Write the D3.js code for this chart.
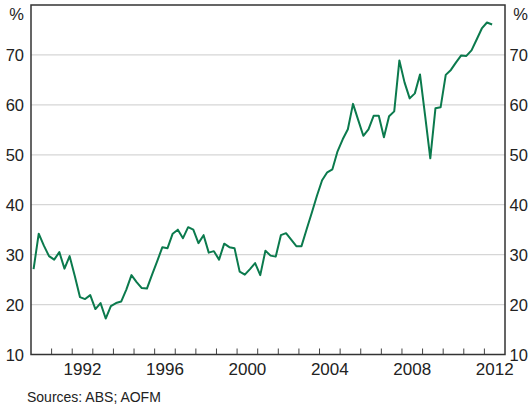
<!DOCTYPE html>
<html>
<head>
<meta charset="utf-8">
<script src="https://cdn.jsdelivr.net/npm/d3@7"></script>
<style>
  body { margin: 0; background: #fff; }
  svg text { font-family: "Liberation Sans", Arial, sans-serif; fill: #222; }
</style>
</head>
<body>
<div id="chart"></div>
<script>
// quarterly values, first point = 1990 Q1
var firstYear = 1990
var values = [
  27.1, 34.2, 31.8, 29.7,
  29.0, 30.5, 27.2, 29.7,
  25.7, 21.5, 21.1, 21.9,
  19.1, 20.3, 17.2, 19.7,
  20.3, 20.6, 23.0, 25.9,
  24.5, 23.3, 23.2, 26.0,
  28.7, 31.5, 31.3, 34.2,
  35.0, 33.3, 35.5, 35.0,
  32.3, 33.9, 30.4, 30.7,
  29.0, 32.2, 31.5, 31.3,
  26.6, 26.0, 27.1, 28.3,
  25.9, 30.8, 29.8, 29.6,
  33.9, 34.3, 33.0, 31.7,
  31.7, 35.1, 38.4, 41.8,
  44.9, 46.5, 47.1, 50.7,
  53.1, 55.1, 60.2, 57.0,
  53.8, 55.1, 57.8, 57.8,
  53.5, 57.7, 58.7, 68.9,
  64.5, 61.3, 62.3, 66.1,
  57.8, 49.3, 59.3, 59.5,
  66.0, 67.0, 68.5, 69.9,
  69.8, 70.9, 73.1, 75.3,
  76.5, 76.1
]
var yTicks = [10, 20, 30, 40, 50, 60, 70]
var gridLines = [20, 30, 40, 50, 60, 70]
var yearLabels = [1992, 1996, 2000, 2004, 2008, 2012]

var width = 530, height = 406
var plotL = 31, plotR = 505, plotT = 5, plotB = 354.5

var svg = d3.select('#chart').append('svg')
  .attr('width', width)
  .attr('height', height)

var x = d3.scaleLinear().domain([1990, 2013]).range([plotL, plotR])
var y = d3.scaleLinear().domain([10, 80]).range([plotB, plotT])

// grid
svg.append('g').selectAll('line')
  .data(gridLines)
  .enter().append('line')
    .attr('x1', plotL).attr('x2', plotR)
    .attr('y1', function (d) { return y(d) }).attr('y2', function (d) { return y(d) })
    .attr('stroke', '#d6d6d6')
    .attr('stroke-width', 1.2)

// year ticks along the bottom, pointing up
var yearTicks = d3.range(1991, 2013)
svg.append('g').selectAll('line')
  .data(yearTicks)
  .enter().append('line')
    .attr('x1', function (d) { return x(d) }).attr('x2', function (d) { return x(d) })
    .attr('y1', plotB).attr('y2', plotB - 6)
    .attr('stroke', '#444')
    .attr('stroke-width', 1)

// series
var points = values.map(function (v, i) { return { t: firstYear + (i + 0.5) / 4, v: v } })
var line = d3.line()
  .x(function (d) { return x(d.t) })
  .y(function (d) { return y(d.v) })

svg.append('path')
  .datum(points)
  .attr('d', line)
  .attr('fill', 'none')
  .attr('stroke', '#0b7a4d')
  .attr('stroke-width', 2)
  .attr('stroke-linejoin', 'round')

// frame
svg.append('rect')
  .attr('x', plotL).attr('y', plotT)
  .attr('width', plotR - plotL).attr('height', plotB - plotT)
  .attr('fill', 'none')
  .attr('stroke', '#333')
  .attr('stroke-width', 1.5)

// y labels both sides
var fs = 16.5
svg.append('g').selectAll('text')
  .data(yTicks)
  .enter().append('text')
    .attr('x', plotL - 7)
    .attr('y', function (d) { return y(d) + 6 })
    .attr('text-anchor', 'end')
    .attr('font-size', fs)
    .text(function (d) { return d })

svg.append('g').selectAll('text')
  .data(yTicks)
  .enter().append('text')
    .attr('x', plotR + 4.5)
    .attr('y', function (d) { return y(d) + 6 })
    .attr('text-anchor', 'start')
    .attr('font-size', fs)
    .text(function (d) { return d })

svg.append('text')
  .attr('x', plotL - 7).attr('y', 20)
  .attr('text-anchor', 'end')
  .attr('font-size', fs)
  .text('%')

svg.append('text')
  .attr('x', 528).attr('y', 20)
  .attr('text-anchor', 'end')
  .attr('font-size', fs)
  .text('%')

// x labels centred in the year
svg.append('g').selectAll('text')
  .data(yearLabels)
  .enter().append('text')
    .attr('x', function (d) { return x(d + 0.5) })
    .attr('y', 375)
    .attr('text-anchor', 'middle')
    .attr('font-size', 17)
    .text(function (d) { return d })

svg.append('text')
  .attr('x', 27).attr('y', 401.5)
  .attr('font-size', 14)
  .text('Sources: ABS; AOFM')
</script>
</body>
</html>
